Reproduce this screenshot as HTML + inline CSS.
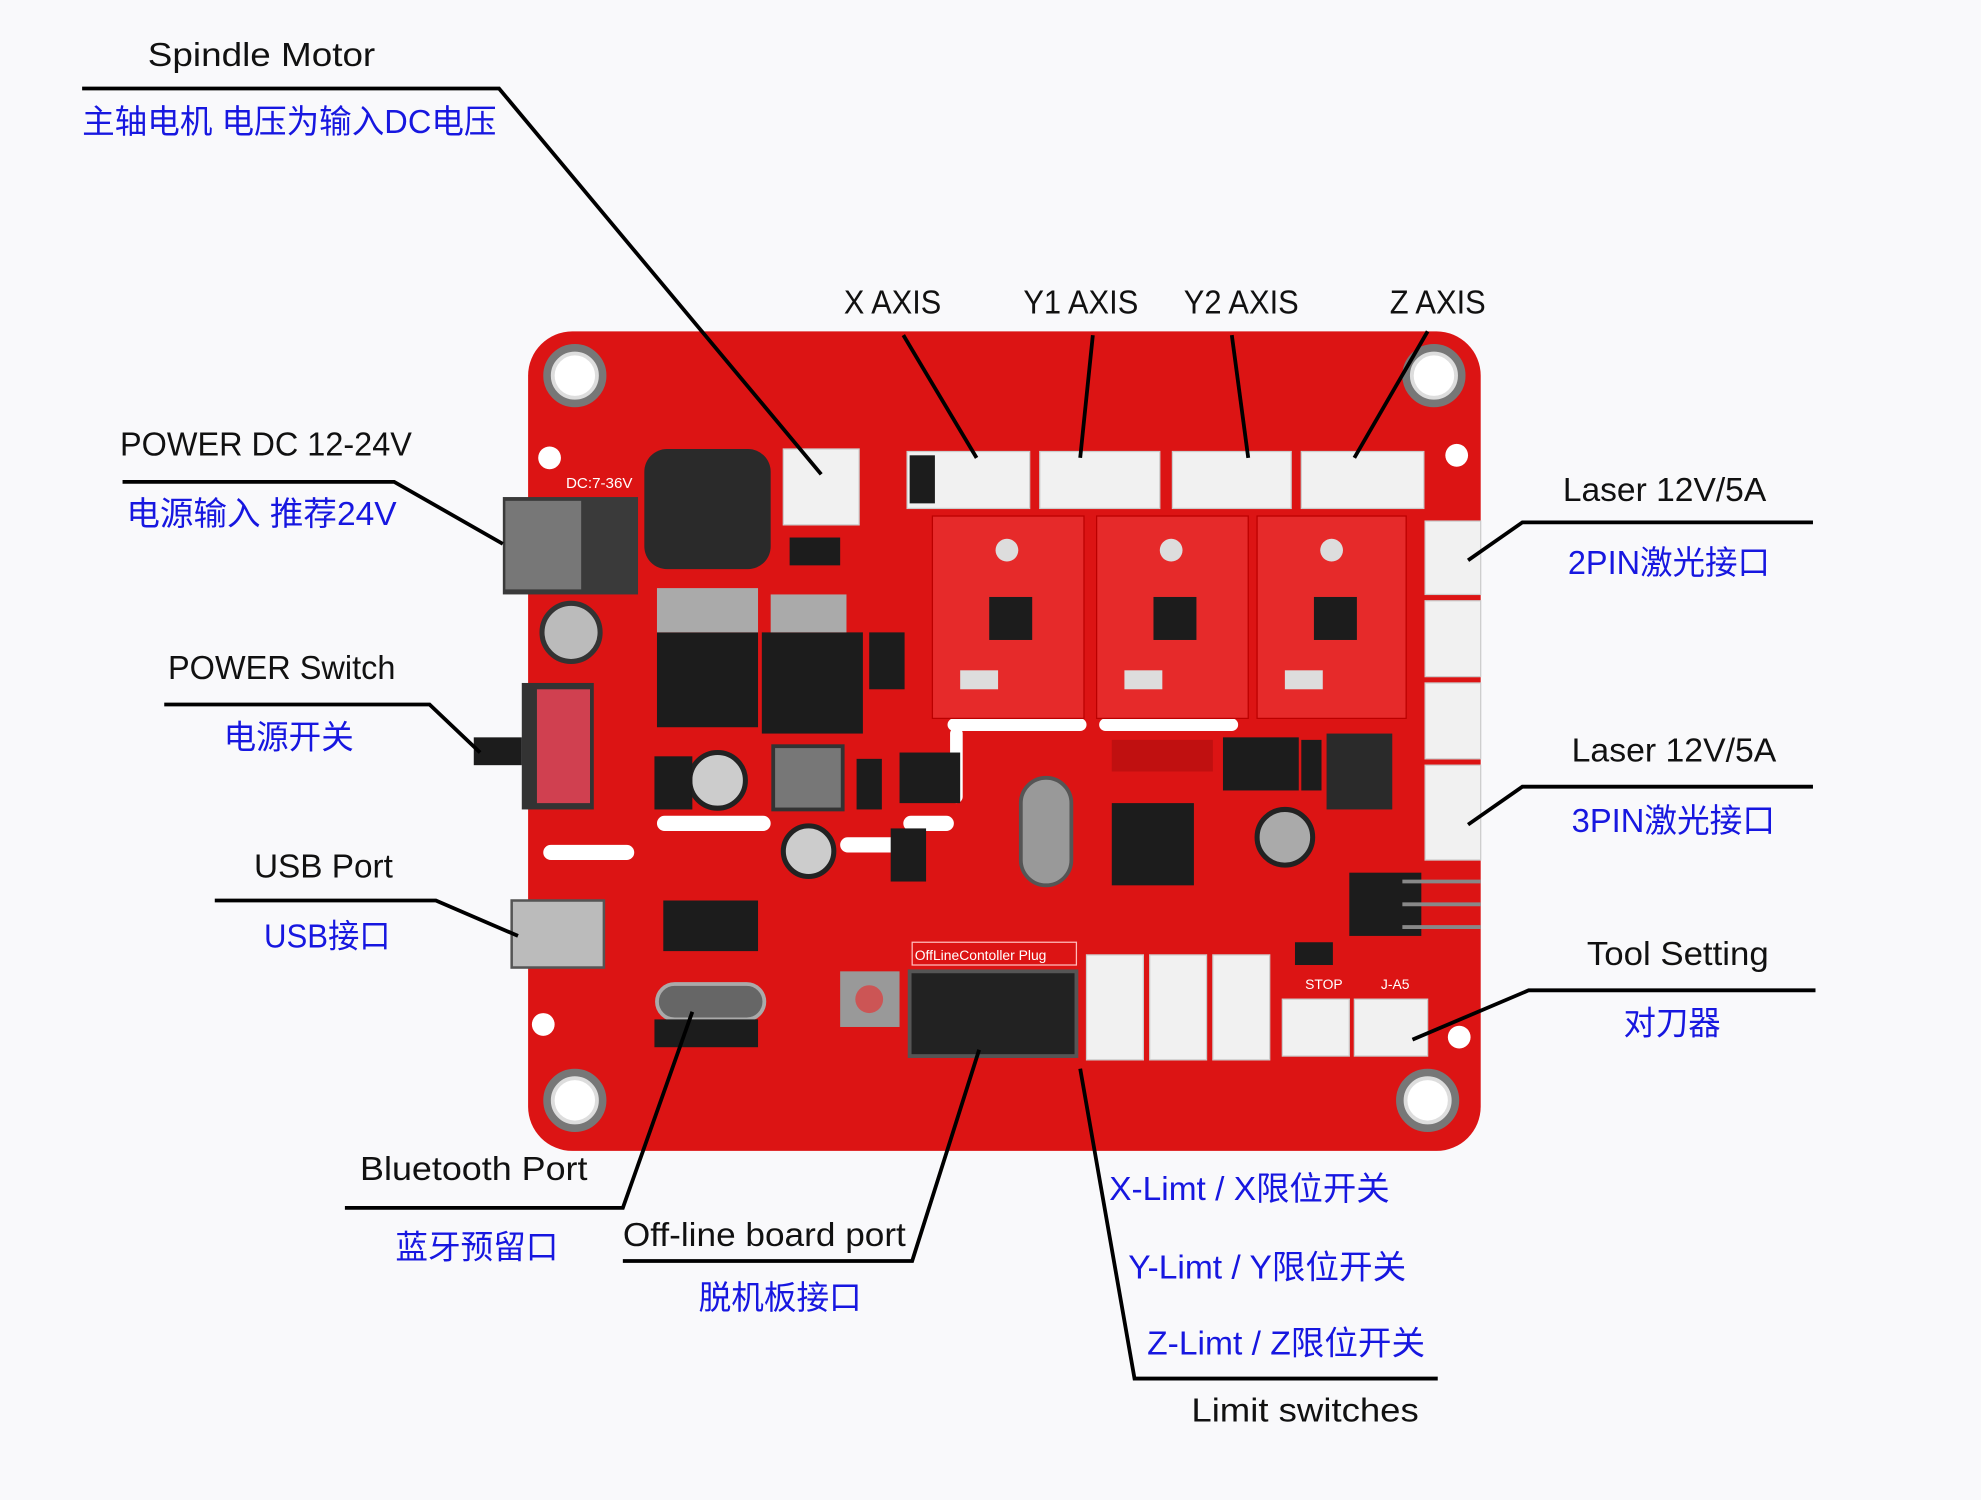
<!DOCTYPE html>
<html><head><meta charset="utf-8"><style>
html,body{margin:0;padding:0;background:#f9f9fb;}
svg{display:block}
text{font-family:"Liberation Sans","Noto Sans CJK SC",sans-serif;font-size:26px}
.b{fill:#111}
.u{fill:#1717e0}
.l{stroke:#000;stroke-width:3;fill:none}
.w{fill:#f1f1f1;stroke:#ccc;stroke-width:1}
.k{fill:#1c1c1c}
</style></head><body>
<svg width="1981" height="1500" viewBox="0 0 1568 1186" preserveAspectRatio="none" xmlns="http://www.w3.org/2000/svg">
<rect width="1568" height="1186" fill="#f9f9fb"/>
<!-- board -->
<rect x="418" y="262" width="754" height="648" rx="35" fill="#dc1414"/>
<g fill="#ddd" stroke="#777" stroke-width="6">
<circle cx="455" cy="297" r="22"/><circle cx="1135" cy="297" r="22"/><circle cx="455" cy="870" r="22"/><circle cx="1130" cy="870" r="22"/>
</g>
<g fill="#fff"><circle cx="455" cy="297" r="16"/><circle cx="1135" cy="297" r="16"/><circle cx="455" cy="870" r="16"/><circle cx="1130" cy="870" r="16"/>
<circle cx="435" cy="362" r="9"/><circle cx="1153" cy="360" r="9"/><circle cx="430" cy="810" r="9"/><circle cx="1155" cy="820" r="9"/>
<rect x="430" y="668" width="72" height="12" rx="6"/><rect x="520" y="645" width="90" height="12" rx="6"/><rect x="665" y="662" width="50" height="12" rx="6"/><rect x="715" y="645" width="40" height="12" rx="6"/><rect x="752" y="575" width="10" height="60" rx="5"/><rect x="750" y="568" width="110" height="10" rx="5"/><rect x="870" y="568" width="110" height="10" rx="5"/></g>
<!-- connectors top -->
<rect class="w" x="620" y="355" width="60" height="60"/>
<rect class="w" x="718" y="357" width="97" height="45"/><rect class="w" x="823" y="357" width="95" height="45"/><rect class="w" x="928" y="357" width="94" height="45"/><rect class="w" x="1030" y="357" width="97" height="45"/>
<rect class="k" x="720" y="360" width="20" height="38"/>
<!-- drivers -->
<g fill="#e62a2a" stroke="#b00" stroke-width="1"><rect x="738" y="408" width="120" height="160"/><rect x="868" y="408" width="120" height="160"/><rect x="995" y="408" width="118" height="160"/></g>
<g class="k"><rect x="783" y="472" width="34" height="34"/><rect x="913" y="472" width="34" height="34"/><rect x="1040" y="472" width="34" height="34"/></g>
<g fill="#ddd"><circle cx="797" cy="435" r="9"/><circle cx="927" cy="435" r="9"/><circle cx="1054" cy="435" r="9"/>
<rect x="760" y="530" width="30" height="15"/><rect x="890" y="530" width="30" height="15"/><rect x="1017" y="530" width="30" height="15"/></g>
<!-- power section -->
<rect x="510" y="355" width="100" height="95" rx="18" fill="#2a2a2a"/>
<rect x="398" y="393" width="107" height="77" fill="#3a3a3a"/><rect x="400" y="396" width="60" height="70" fill="#777"/>
<circle cx="452" cy="500" r="23" fill="#bbb" stroke="#333" stroke-width="4"/>
<rect class="k" x="520" y="500" width="80" height="75"/><rect x="520" y="465" width="80" height="35" fill="#aaa"/>
<rect class="k" x="603" y="500" width="80" height="80"/><rect x="610" y="470" width="60" height="30" fill="#aaa"/>
<rect x="413" y="540" width="57" height="100" fill="#333"/><rect x="425" y="545" width="42" height="90" fill="#d04050"/>
<rect class="k" x="375" y="583" width="38" height="22"/>
<circle cx="568" cy="617" r="22" fill="#ccc" stroke="#222" stroke-width="4"/>
<rect x="612" y="590" width="55" height="50" fill="#777" stroke="#333" stroke-width="3"/>
<circle cx="640" cy="673" r="20" fill="#ccc" stroke="#222" stroke-width="4"/>
<rect class="k" x="518" y="598" width="30" height="42"/><rect class="k" x="678" y="600" width="20" height="40"/><rect class="k" x="712" y="595" width="48" height="40"/><rect class="k" x="705" y="655" width="28" height="42"/><rect class="k" x="688" y="500" width="28" height="45"/><rect class="k" x="625" y="425" width="40" height="22"/>
<!-- mcu -->
<rect class="k" x="880" y="635" width="65" height="65"/>
<rect x="808" y="615" width="40" height="85" rx="20" fill="#999" stroke="#555" stroke-width="3"/>
<circle cx="1017" cy="662" r="22" fill="#aaa" stroke="#222" stroke-width="4"/>
<rect class="k" x="968" y="583" width="60" height="42"/>
<rect x="1050" y="580" width="52" height="60" fill="#2a2a2a"/><rect class="k" x="1030" y="585" width="16" height="40"/>
<rect x="880" y="585" width="80" height="25" fill="#c01010"/>
<!-- right connectors -->
<rect class="w" x="1128" y="412" width="44" height="58"/><rect class="w" x="1128" y="475" width="44" height="60"/><rect class="w" x="1128" y="540" width="44" height="60"/><rect class="w" x="1128" y="605" width="44" height="75"/>
<rect class="k" x="1068" y="690" width="57" height="50"/>
<g stroke="#888" stroke-width="3"><line x1="1110" y1="697" x2="1172" y2="697"/><line x1="1110" y1="715" x2="1172" y2="715"/><line x1="1110" y1="733" x2="1172" y2="733"/></g>
<!-- bottom left -->
<rect x="405" y="712" width="73" height="53" fill="#bbb" stroke="#555" stroke-width="2"/>
<rect class="k" x="525" y="712" width="75" height="40"/>
<rect x="520" y="778" width="85" height="28" rx="14" fill="#666" stroke="#aaa" stroke-width="3"/>
<rect class="k" x="518" y="806" width="82" height="22"/>
<rect x="665" y="768" width="47" height="44" fill="#999"/><circle cx="688" cy="790" r="11" fill="#c55"/>
<rect x="720" y="768" width="132" height="67" fill="#222" stroke="#555" stroke-width="3"/>
<rect x="722" y="745" width="130" height="18" fill="none" stroke="#fbb" stroke-width="1"/>
<text x="724" y="759" style="font-size:11px;fill:#fff">OffLineContoller Plug</text>
<!-- limits -->
<rect class="w" x="860" y="755" width="45" height="83"/><rect class="w" x="910" y="755" width="45" height="83"/><rect class="w" x="960" y="755" width="45" height="83"/>
<rect class="w" x="1015" y="790" width="53" height="45"/><rect class="w" x="1072" y="790" width="58" height="45"/>
<rect class="k" x="1025" y="745" width="30" height="18"/>
<text x="1033" y="782" style="font-size:11px;fill:#fff">STOP</text><text x="1093" y="782" style="font-size:11px;fill:#fff">J-A5</text>
<text x="448" y="386" style="font-size:12px;fill:#fff">DC:7-36V</text>
<!-- leader lines -->
<polyline class="l" points="65,70 395,70 650,375"/>
<polyline class="l" points="97,381 312,381 398,430"/>
<polyline class="l" points="130,557 340,557 380,595"/>
<polyline class="l" points="170,712 345,712 410,740"/>
<polyline class="l" points="273,955 493,955 548,800"/>
<polyline class="l" points="493,997 722,997 775,830"/>
<polyline class="l" points="855,845 898,1090 1138,1090"/>
<line class="l" x1="715" y1="265" x2="773" y2="362"/>
<line class="l" x1="865" y1="265" x2="855" y2="362"/>
<line class="l" x1="975" y1="265" x2="988" y2="362"/>
<line class="l" x1="1130" y1="262" x2="1072" y2="362"/>
<polyline class="l" points="1435,413 1205,413 1162,443"/>
<polyline class="l" points="1435,622 1205,622 1162,652"/>
<polyline class="l" points="1437,783 1210,783 1118,822"/>
<!-- labels -->
<g lengthAdjust="spacingAndGlyphs">
<text class="b" x="117" y="52" textLength="180" lengthAdjust="spacingAndGlyphs">Spindle  Motor</text>
<text class="u" x="65" y="105" textLength="328" lengthAdjust="spacingAndGlyphs">主轴电机 电压为输入DC电压</text>
<text class="b" x="668" y="248" textLength="77" lengthAdjust="spacingAndGlyphs">X AXIS</text>
<text class="b" x="810" y="248" textLength="91" lengthAdjust="spacingAndGlyphs">Y1 AXIS</text>
<text class="b" x="937" y="248" textLength="91" lengthAdjust="spacingAndGlyphs">Y2 AXIS</text>
<text class="b" x="1100" y="248" textLength="76" lengthAdjust="spacingAndGlyphs">Z AXIS</text>
<text class="b" x="95" y="360" textLength="231" lengthAdjust="spacingAndGlyphs">POWER  DC  12-24V</text>
<text class="u" x="100" y="415" textLength="214" lengthAdjust="spacingAndGlyphs">电源输入  推荐24V</text>
<text class="b" x="133" y="537" textLength="180" lengthAdjust="spacingAndGlyphs">POWER  Switch</text>
<text class="u" x="177" y="592" textLength="103" lengthAdjust="spacingAndGlyphs">电源开关</text>
<text class="b" x="201" y="694" textLength="110" lengthAdjust="spacingAndGlyphs">USB  Port</text>
<text class="u" x="209" y="749" textLength="100" lengthAdjust="spacingAndGlyphs">USB接口</text>
<text class="b" x="1237" y="396" textLength="161" lengthAdjust="spacingAndGlyphs">Laser  12V/5A</text>
<text class="u" x="1241" y="454" textLength="160" lengthAdjust="spacingAndGlyphs">2PIN激光接口</text>
<text class="b" x="1244" y="602" textLength="162" lengthAdjust="spacingAndGlyphs">Laser  12V/5A</text>
<text class="u" x="1244" y="658" textLength="161" lengthAdjust="spacingAndGlyphs">3PIN激光接口</text>
<text class="b" x="1256" y="763" textLength="144" lengthAdjust="spacingAndGlyphs">Tool Setting</text>
<text class="u" x="1285" y="818" textLength="77" lengthAdjust="spacingAndGlyphs">对刀器</text>
<text class="b" x="285" y="933" textLength="180" lengthAdjust="spacingAndGlyphs">Bluetooth  Port</text>
<text class="u" x="313" y="995" textLength="129" lengthAdjust="spacingAndGlyphs">蓝牙预留口</text>
<text class="b" x="493" y="985" textLength="224" lengthAdjust="spacingAndGlyphs">Off-line board port</text>
<text class="u" x="553" y="1035" textLength="129" lengthAdjust="spacingAndGlyphs">脱机板接口</text>
<text class="u" x="878" y="949" textLength="222" lengthAdjust="spacingAndGlyphs">X-Limt / X限位开关</text>
<text class="u" x="893" y="1011" textLength="220" lengthAdjust="spacingAndGlyphs">Y-Limt / Y限位开关</text>
<text class="u" x="908" y="1071" textLength="220" lengthAdjust="spacingAndGlyphs">Z-Limt / Z限位开关</text>
<text class="b" x="943" y="1124" textLength="180" lengthAdjust="spacingAndGlyphs">Limit   switches</text>
</g>
</svg>
</body></html>
